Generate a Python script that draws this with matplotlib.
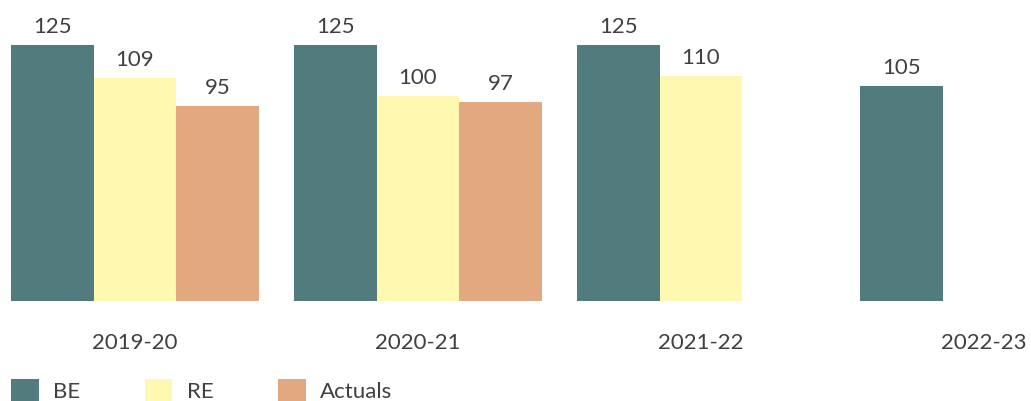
import matplotlib
matplotlib.use("Agg")
import matplotlib.pyplot as plt
from matplotlib.patches import Patch
import numpy as np

plt.rcParams['font.family'] = ['Lato', 'DejaVu Sans']

categories = ["2019-20", "2020-21", "2021-22", "2022-23"]
series_names = ["BE", "RE", "Actuals"]
be = [125, 125, 125, 105]
re_vals = [109, 100, 110, None]
actuals = [95, 97, None, None]
colors = ["#527B7D", "#FFF8B0", "#E2A880"]
text_color = "#404040"

W, H = 1031, 401
fig = plt.figure(figsize=(W / 100, H / 100), dpi=100)
base_px = 300.7
ax = fig.add_axes([0, (H - base_px) / H, 1, base_px / H])

grp_px = 283.0
first_center_px = 135.0
bar_w = 82.5 / grp_px
ax.set_xlim((0 - first_center_px) / grp_px, (W - first_center_px) / grp_px)
ax.set_ylim(0, 125 * base_px / 255.7)

x = np.arange(len(categories))
for i, (vals, col) in enumerate(zip([be, re_vals, actuals], colors)):
    xs = [xi + (i - 1) * bar_w for xi, v in zip(x, vals) if v is not None]
    vs = [v for v in vals if v is not None]
    bars = ax.bar(xs, vs, width=bar_w, color=col, linewidth=0)
    for b, v in zip(bars, vs):
        ax.annotate(str(v), (b.get_x() + b.get_width() / 2, v),
                    xytext=(0, 13), textcoords="offset points",
                    ha="center", va="center", fontsize=16, color=text_color)

ax.set_xticks(x)
ax.set_xticklabels(categories, fontsize=16, color=text_color)
ax.tick_params(axis='x', length=0, pad=23)
ax.set_yticks([])
for s in ax.spines.values():
    s.set_visible(False)

handles = [Patch(facecolor=c, edgecolor='none') for c in colors]
fig.legend(handles, series_names, loc="lower left",
           bbox_to_anchor=(2 / W, -10 / H), ncol=3, frameon=False,
           fontsize=16, labelcolor=text_color,
           handlelength=1.25, handleheight=1.25, handletextpad=0.65,
           columnspacing=2.9, borderaxespad=0)

fig.savefig("out.png", dpi=100)
